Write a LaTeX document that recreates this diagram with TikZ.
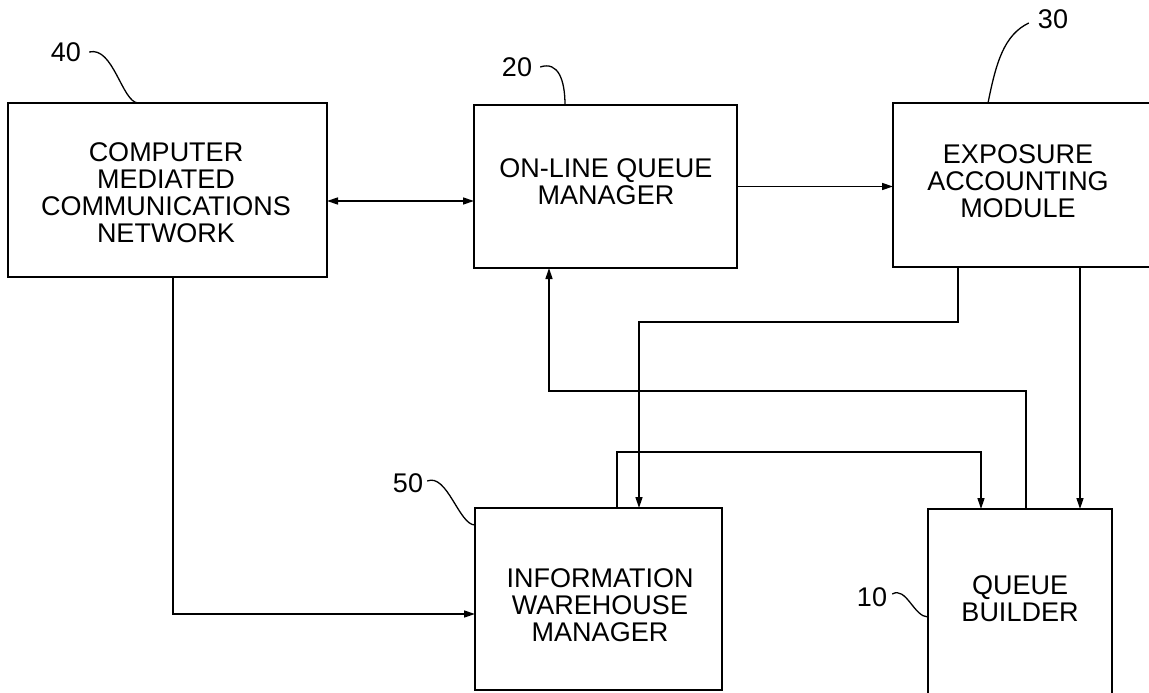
\documentclass[tikz,border=0pt]{standalone}
\usepackage{fontspec}
\setmainfont{Liberation Sans}
\usetikzlibrary{arrows.meta}
\tikzset{
  box/.style={draw, line width=2pt, inner sep=0pt, outer sep=0pt, anchor=north west},
  txt/.style={font=\fontsize{27}{27}\selectfont, align=center, inner sep=0pt},
  lbl/.style={font=\fontsize{27}{27}\selectfont, inner sep=0pt},
  con/.style={line width=1.4pt},
  lead/.style={line width=1.3pt},
  >={Triangle[length=11pt,width=7pt]}
}
\begin{document}
\begin{tikzpicture}[x=1pt,y=-1pt]
\useasboundingbox (0,0) rectangle (1149,693);
% boxes
\node[box, minimum width=319pt, minimum height=174pt] (c40) at (8,103) {};
\node[box, minimum width=263pt, minimum height=163pt] (c20) at (474,105) {};
\node[box, minimum width=272pt, minimum height=164pt] (c30) at (893,103) {};
\node[box, minimum width=247pt, minimum height=182pt] (c50) at (475,508) {};
\node[box, minimum width=184pt, minimum height=205pt] (c10) at (928,509) {};
% texts
\node[txt] (t40) at (166,193) {COMPUTER\\MEDIATED\\COMMUNICATIONS\\NETWORK};
\node[txt] (t20) at (606,182) {ON-LINE QUEUE\\MANAGER};
\node[txt] (t30) at (1018,181) {EXPOSURE\\ACCOUNTING\\MODULE};
\node[txt] (t50) at (600,605) {INFORMATION\\WAREHOUSE\\MANAGER};
\node[txt] (t10) at (1020,599) {QUEUE\\BUILDER};
% reference numerals
\node[lbl] (l40) at (66,52) {40};
\node[lbl] (l20) at (517,67) {20};
\node[lbl] (l30) at (1053,19) {30};
\node[lbl] (l50) at (408,483) {50};
\node[lbl] (l10) at (872,597) {10};
% leaders
\draw[lead] ([xshift=8pt]l40.east) .. controls +(24,-6) and +(-16,-1) .. ([xshift=130pt]c40.north west);
\draw[lead] ([xshift=8pt]l20.east) .. controls +(18,-6) and +(0,-25) .. ([xshift=91pt]c20.north west);
\draw[lead] ([xshift=-9pt,yshift=-4pt]l30.west) .. controls +(-25,12) and +(8,-40) .. ([xshift=95pt]c30.north west);
\draw[lead] ([xshift=4pt,yshift=2pt]l50.east) .. controls +(20,-8) and +(-16,0) .. ([yshift=-17pt]c50.north west);
\draw[lead] ([xshift=5pt,yshift=3pt]l10.east) .. controls +(14,-8) and +(-14,0) .. ([yshift=-108pt]c10.north west);
% connectors
\draw[con,<->] ([yshift=-11pt]c40.east) -- ([yshift=-11pt]c40.east -| c20.west);
\draw[con,->] (c20.east) -- (c20.east -| c30.west);
\coordinate (a1) at ([xshift=65pt]c30.south west);
\draw[con,->] (a1) -- ++(0,55) -| ([xshift=164pt]c50.north west);
\coordinate (a2) at ([xshift=187pt]c30.south west);
\draw[con,->] (a2) -- (a2 |- c10.north);
\coordinate (a3) at ([xshift=98pt]c10.north west);
\draw[con,->] (a3) -- ++(0,-118) -| ([xshift=75pt]c20.south west);
\coordinate (a4) at ([xshift=142pt]c50.north west);
\coordinate (a5) at ([xshift=53pt]c10.north west);
\draw[con,->] (a4) -- ++(0,-56) -| (a5);
\coordinate (a6) at ([xshift=165pt]c40.south west);
\draw[con,->] (a6) |- ([yshift=-15pt]c50.west);
\end{tikzpicture}
\end{document}
